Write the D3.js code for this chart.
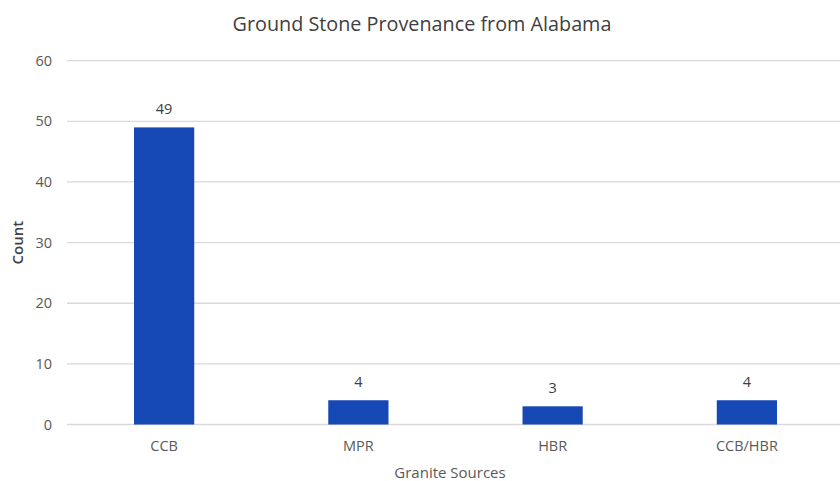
<!DOCTYPE html>
<html>
<head>
<meta charset="utf-8">
<script src="https://cdn.jsdelivr.net/npm/d3@7"></script>
<style>
  body { margin: 0; background: #fff; }
  svg { display: block; font-family: "Open Sans", "Liberation Sans", sans-serif; }
</style>
</head>
<body>
<svg id="chart" width="840" height="481"></svg>
<script>
// Granite source counts
const categories = ["CCB", "MPR", "HBR", "CCB/HBR"];
const counts = [49, 4, 3, 4];
const yTicks = [0, 10, 20, 30, 40, 50, 60];

const svg = d3.select("#chart");
const W = 840, H = 481;
const plot = { left: 67, right: 844, top: 60.7, bottom: 424.5 };

const x = d3.scaleBand().domain(categories).range([plot.left, plot.right]).padding(0);
const y = d3.scaleLinear().domain([0, 60]).range([plot.bottom, plot.top]);
const barW = x.bandwidth() * 0.31;

svg.append("rect").attr("width", W).attr("height", H).attr("fill", "#fff");

// Horizontal gridlines
svg.append("g").selectAll("line").data(yTicks).join("line")
  .attr("x1", plot.left).attr("x2", plot.right)
  .attr("y1", d => y(d)).attr("y2", d => y(d))
  .attr("stroke", "#d9d9d9").attr("stroke-width", 1.3);

// Y axis tick labels
const yAxis = svg.append("g")
  .attr("transform", `translate(${plot.left - 15},0)`)
  .call(d3.axisLeft(y).tickValues(yTicks).tickSize(0).tickPadding(0));
yAxis.select(".domain").remove();
yAxis.selectAll("text").attr("font-size", 14.5).attr("fill", "#595959")
  .attr("font-family", "'Open Sans', sans-serif");

// X axis category labels
const xAxis = svg.append("g")
  .attr("transform", `translate(0,${plot.bottom})`)
  .call(d3.axisBottom(x).tickSize(0).tickPadding(16));
xAxis.select(".domain").remove();
xAxis.selectAll("text").attr("font-size", 14.5).attr("fill", "#595959")
  .attr("font-family", "'Open Sans', sans-serif");

// Bars
svg.append("g").selectAll("rect").data(categories).join("rect")
  .attr("x", d => x(d) + x.bandwidth() / 2 - barW / 2)
  .attr("width", barW)
  .attr("y", (d, i) => y(counts[i]))
  .attr("height", (d, i) => y(0) - y(counts[i]))
  .attr("fill", "#1548b4");

// Value labels
svg.append("g").selectAll("text").data(categories).join("text")
  .attr("x", d => x(d) + x.bandwidth() / 2)
  .attr("y", (d, i) => y(counts[i]) - 13)
  .attr("text-anchor", "middle")
  .attr("font-size", 14.5).attr("fill", "#404040")
  .text((d, i) => counts[i]);

// Title
svg.append("text")
  .attr("x", 422).attr("y", 31)
  .attr("text-anchor", "middle")
  .attr("font-size", 19.8).attr("fill", "#404040")
  .text("Ground Stone Provenance from Alabama");

// Axis titles
svg.append("text")
  .attr("x", 450).attr("y", 478)
  .attr("text-anchor", "middle")
  .attr("font-size", 15).attr("fill", "#595959")
  .text("Granite Sources");

svg.append("text")
  .attr("transform", `translate(23,${(plot.top + plot.bottom) / 2}) rotate(-90)`)
  .attr("text-anchor", "middle")
  .attr("font-size", 15).attr("font-weight", 600).attr("fill", "#404040")
  .text("Count");
</script>
</body>
</html>
